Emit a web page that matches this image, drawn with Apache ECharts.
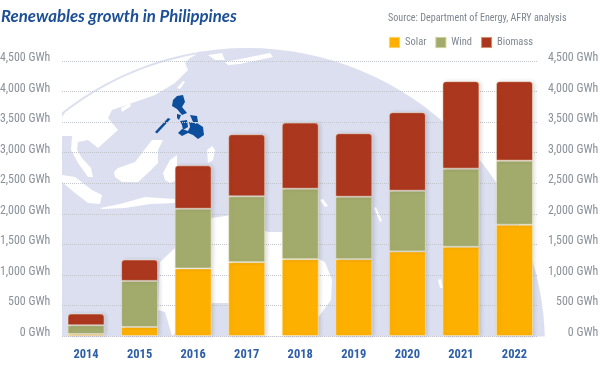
<!DOCTYPE html>
<html><head><meta charset="utf-8">
<style>html,body{margin:0;padding:0;background:#fff}#c{width:600px;height:381px}</style>
<script src="https://cdn.jsdelivr.net/npm/echarts@6/dist/echarts.min.js"></script>
</head><body><div id="c"></div>
<script>
const categories = ['2014','2015','2016','2017','2018','2019','2020','2021','2022'];
const solar   = [33,148,1105,1208,1257,1257,1384,1459,1820];
const wind    = [142,754,977,1077,1153,1022,993,1279,1049];
const biomass = [192,350,711,1017,1082,1039,1285,1432,1301];
const titleText = 'Renewables growth in Philippines';
const sourceText = 'Source: Department of Energy, AFRY analysis';
const NARROW = '"Roboto Condensed","Liberation Sans",sans-serif';
const LAND = '#ffffff', SEA = '#dcdfef', PH = '#0c4e9b';

function poly(points, fill, z){ return {type:'polygon', silent:true, z:z===undefined?-9:z, shape:{points}, style:{fill}}; }

// inner edge of the globe rim, from the left margin to the top of the Asian coast
const rim = [];
for (let x = 197; x >= 60; x -= 6) rim.push([x, 346 - Math.sqrt(296*296 - (x-247)*(x-247))]);

const land = [
  [[72,136],[71,150],[78,163],[88,177],[93,177],[91,168],[82,158],[77,150],[78,142],[88,140],[98,148],[118,130],[108,118],[112,110],[135,102],[155,95],[175,83],[188,70],[185,63],[190,58]].concat(rim).concat([[50,136]]),
  [[62,175],[75,177],[92,190],[102,195],[100,204],[88,203],[75,193],[62,182]],
  [[100,208],[120,204],[145,197],[175,199],[175,203],[150,204],[125,208],[102,209]],
  [[114,172],[118,168],[135,162],[152,140],[163,140],[158,150],[158,163],[148,173],[138,182],[122,182],[115,177]],
  [[163,173],[170,160],[177,155],[177,180],[170,183],[165,180]],
  [[121,108],[130,103],[131,106],[122,112]],
  [[177,88],[183,81],[185,82],[180,89]],
  [[208,55],[222,53],[225,60],[215,60]],
  [[225,62],[235,60],[270,53],[273,57],[240,64],[228,65]],
  [[207,150],[212,146],[215,150],[213,160],[208,163]],
  [[175,248],[190,230],[212,218],[232,215],[268,232],[282,232],[300,250],[325,262],[332,280],[331,300],[320,315],[300,336],[262,336],[255,330],[240,310],[228,303],[212,303],[172,336],[165,312],[158,310],[160,262]],
  [[320,200],[323,199],[328,206],[325,207]],
  [[374,208],[376,207],[382,221],[380,222]],
  [[438,280],[441,279],[443,288],[440,288]]
];
const philippines = [
  [[173,100],[177,96],[183,95],[185,102],[182,107],[187,113],[182,115],[177,109],[172,106]],
  [[155,132],[168,118],[170.5,119],[157,133.5]],
  [[177,114],[181,115],[179,120],[177,118]],
  [[190,115],[197,116],[198,122],[193,122]],
  [[180,121],[187,120],[188,127],[183,130],[182,125]],
  [[189,122],[195,123],[195,127],[190,127]],
  [[178,133],[182,129],[188,131],[190,127],[197,123],[203,127],[204,135],[198,139],[193,135],[188,133],[182,136]]
];

const graphic = [
  {type:'circle', silent:true, z:-10, shape:{cx:247,cy:346,r:298}, style:{fill:SEA}}
];
land.forEach(p=>graphic.push(poly(p,LAND)));
philippines.forEach(p=>graphic.push(poly(p,PH,-8)));
graphic.push({type:'rect', silent:true, z:-7, shape:{x:0,y:0,width:62,height:381}, style:{fill:'#fff'}});
graphic.push({type:'rect', silent:true, z:-7, shape:{x:0,y:336.5,width:600,height:45}, style:{fill:'#fff'}});
graphic.push({type:'text', z:10, x:1, y:8, style:{text:titleText, fill:'#1c4f95', font:'italic bold 16.8px Lato,sans-serif'}});
graphic.push({type:'text', z:10, x:388, y:13, style:{text:sourceText, fill:'#7d858e', font:'10.1px '+NARROW}});

const yTick = v => v.toLocaleString('en-US') + ' GWh';
const barBase = {type:'bar', stack:'t', barWidth:37, xAxisIndex:0, yAxisIndex:0};
const edge = {borderColor:'rgba(255,250,225,0.45)', borderWidth:1, shadowBlur:4, shadowColor:'rgba(0,0,0,0.14)', shadowOffsetX:2};
const quiet = {axisLine:{show:false}, axisTick:{show:false}};
const labelStyle = {color:'#8a9199', fontSize:11.9, formatter:yTick, fontFamily:NARROW, verticalAlign:'bottom', lineHeight:6};

const chart = echarts.init(document.getElementById('c'), null, {renderer:'canvas'});
chart.setOption({
  animation:false,
  backgroundColor:'#fff',
  graphic,
  textStyle:{fontFamily:NARROW},
  legend:{
    left:388, top:36, padding:0, itemWidth:11, itemHeight:11, itemGap:8, icon:'rect',
    textStyle:{color:'#7f8790', fontSize:10.5, fontFamily:NARROW},
    data:['Solar','Wind','Biomass']
  },
  grid:[
    {left:59.25, right:58.75, top:61, height:275, outerBoundsMode:'none'},
    {left:62, right:62, top:61, height:275, outerBoundsMode:'none'}
  ],
  xAxis:[
    Object.assign({gridIndex:0, type:'category', data:categories, boundaryGap:true,
      axisLabel:{color:'#2d5ea6', fontWeight:'bold', fontSize:12.5, margin:12, fontFamily:NARROW}}, quiet),
    {gridIndex:1, type:'category', data:categories, show:false}
  ],
  yAxis:[
    Object.assign({gridIndex:0, type:'value', min:0, max:4500, interval:500, position:'left',
      axisLabel:Object.assign({margin:9}, labelStyle), splitLine:{show:false}}, quiet),
    Object.assign({gridIndex:0, type:'value', min:0, max:4500, interval:500, position:'right',
      axisLabel:Object.assign({margin:57, align:'right'}, labelStyle), splitLine:{show:false}}, quiet),
    Object.assign({gridIndex:1, type:'value', min:0, max:4500, interval:500,
      axisLabel:{show:false}, splitLine:{show:true, lineStyle:{color:'#c3c5cc', type:'dotted', width:1}}}, quiet)
  ],
  series:[
    Object.assign({},barBase,{name:'Solar', data:solar, itemStyle:Object.assign({color:'#fdb000'},edge)}),
    Object.assign({},barBase,{name:'Wind', data:wind, itemStyle:Object.assign({color:'#a3ab6c'},edge)}),
    Object.assign({},barBase,{name:'Biomass', data:biomass, itemStyle:Object.assign({color:'#ab371e', borderRadius:[3,3,0,0]},edge)})
  ]
});
</script></body></html>
